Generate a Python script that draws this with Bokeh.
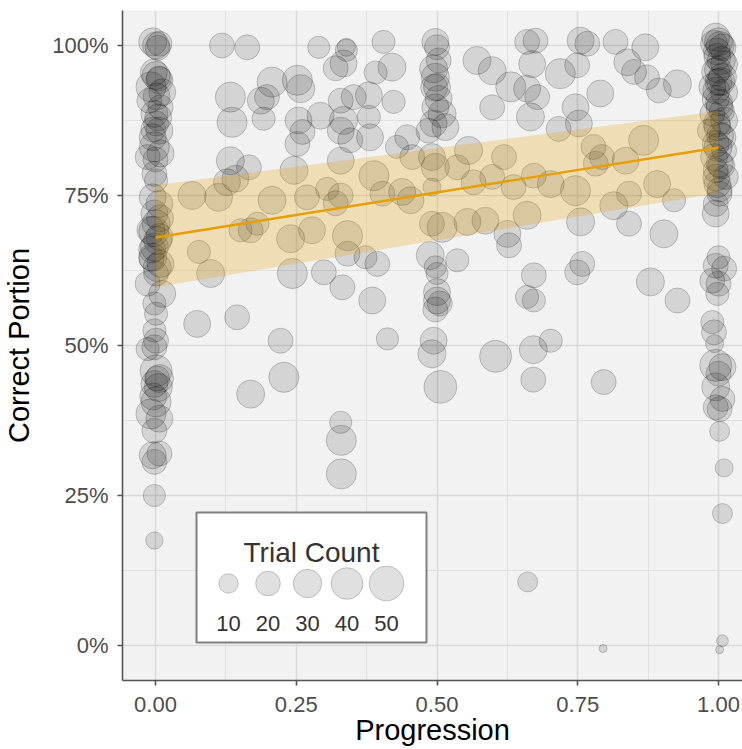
import numpy as np
from bokeh.plotting import figure
from bokeh.models import ColumnDataSource, FixedTicker, NumeralTickFormatter, Range1d
from bokeh.core.properties import value
from bokeh.embed import file_html
from bokeh.resources import INLINE

# ---------------- data ----------------
progression = [
    # column at 0
    -0.005, 0.007, 0.001, 0.004, 0.001, 0.007, -0.008, 0.012, 0.006, -0.003, 0.002,
    -0.011, 0.009, -0.002, 0.005, 0.001, -0.004, 0.007, -0.005, -0.002, 0.009, -0.014, 0.0,
    -0.002, 0.001, -0.005, 0.007, -0.002, 0.008, 0.001, -0.008, -0.003, 0.007, 0.004, -0.002,
    -0.006, -0.005, -0.007, 0.009, 0.003, 0.001, -0.014, 0.012, -0.002, 0.001, -0.002, 0.001,
    -0.002, -0.014, 0.001, 0.007, 0.003, -0.002, 0.005, -0.004, 0.001, -0.008, 0.007, -0.002,
    -0.005, 0.007, -0.002, -0.002, -0.002,
    # column at 0.5
    0.497, 0.5, 0.503, 0.494, 0.497, 0.5, 0.495, 0.503, 0.497, 0.509, 0.494, 0.515, 0.485,
    0.491, 0.497, 0.491, 0.491, 0.509, 0.488, 0.497, 0.5, 0.5, 0.5, 0.505, 0.497, 0.494,
    0.491, 0.506,
    # column at 1
    0.995, 1.0, 0.992, 1.007, 1.003, 0.997, 0.998, 1.005, 1.01, 0.999, 0.995, 1.007, 1.004,
    1.0, 0.989, 0.996, 1.01, 0.995, 1.001, 1.002, 1.006, 0.989, 1.01, 0.997, 0.998, 0.983,
    1.003, 1.007, 0.995, 0.999, 1.01, 0.992, 1.002, 1.005, 0.995, 1.013, 0.996, 0.998, 1.002,
    1.002, 0.995, 0.995, 1.0, 0.995, 1.01, 0.989, 1.0, 0.998, 0.989, 0.992, 0.993, 0.995,
    1.007, 1.0, 0.995, 1.007, 0.995, 1.002, 1.002, 1.01, 1.007, 1.007, 1.002,
    # scattered, 0 - 0.5
    0.118, 0.163, 0.29, 0.339, 0.339, 0.405,
    0.207, 0.252, 0.258, 0.334, 0.32, 0.391, 0.42,
    0.133, 0.187, 0.198, 0.136, 0.192, 0.254, 0.261, 0.252, 0.293, 0.329, 0.352, 0.379, 0.423,
    0.334, 0.329, 0.379, 0.381, 0.346, 0.329, 0.429, 0.456, 0.447, 0.133, 0.166, 0.246, 0.127,
    0.142,
    0.065, 0.112, 0.207, 0.269, 0.305, 0.329, 0.32, 0.388, 0.403, 0.438, 0.453,
    0.151, 0.169, 0.181, 0.24, 0.278, 0.341, 0.077, 0.098, 0.243, 0.299, 0.341, 0.373, 0.394,
    0.332, 0.385,
    0.074, 0.145, 0.222, 0.412, 0.228, 0.169, 0.329, 0.33, 0.33,
    # scattered, 0.5 - 1
    0.675, 0.66, 0.755, 0.767, 0.817, 0.87,
    0.571, 0.598, 0.669, 0.719, 0.749, 0.838, 0.85, 0.873, 0.927,
    0.631, 0.66, 0.678, 0.79, 0.894, 0.598, 0.666, 0.716, 0.746, 0.752,
    0.556, 0.619, 0.778, 0.793, 0.835, 0.867,
    0.536, 0.565, 0.598, 0.636, 0.672, 0.702, 0.746, 0.782, 0.841, 0.891, 0.921,
    0.554, 0.586, 0.625, 0.66, 0.755, 0.814, 0.841, 0.903, 0.628, 0.536, 0.672, 0.758, 0.749,
    0.879, 0.927, 0.66, 0.672,
    0.604, 0.671, 0.702, 0.671, 0.796, 0.661, 0.795,
]

correct_portion = [
    # column at 0
    1.006, 1.003, 1.0, 0.996, 0.95, 0.942, 0.931, 0.922, 0.945, 0.955, 0.915,
    0.908, 0.897, 0.886, 0.88, 0.87, 0.86, 0.858, 0.847, 0.831, 0.82, 0.814, 0.81,
    0.786, 0.775, 0.747, 0.736, 0.72, 0.712, 0.703, 0.692, 0.69, 0.681, 0.675, 0.664,
    0.66, 0.647, 0.645, 0.636, 0.63, 0.62, 0.603, 0.586, 0.57, 0.553, 0.525, 0.508,
    0.497, 0.494, 0.458, 0.445, 0.445, 0.436, 0.43, 0.415, 0.406, 0.386, 0.378, 0.358,
    0.317, 0.32, 0.306, 0.25, 0.175,
    # column at 0.5
    1.006, 0.997, 0.975, 0.961, 0.947, 0.931, 0.93, 0.911, 0.897, 0.886, 0.87, 0.864, 0.858,
    0.814, 0.797, 0.764, 0.703, 0.697, 0.65, 0.631, 0.62, 0.589, 0.575, 0.57, 0.56, 0.508,
    0.486, 0.431,
    # column at 1
    1.014, 1.006, 1.003, 0.997, 1.0, 0.99, 0.981, 0.975, 0.969, 0.96, 0.956, 0.947, 0.94,
    0.939, 0.931, 0.925, 0.922, 0.911, 0.905, 0.897, 0.89, 0.886, 0.875, 0.87, 0.864, 0.858,
    0.85, 0.847, 0.836, 0.83, 0.825, 0.814, 0.803, 0.8, 0.792, 0.781, 0.78, 0.769, 0.76,
    0.753, 0.736, 0.72, 0.647, 0.633, 0.628, 0.608, 0.603, 0.586, 0.539, 0.522, 0.503, 0.467,
    0.464, 0.453, 0.431, 0.411, 0.397, 0.394, 0.357, 0.296, 0.22, 0.008, -0.007,
    # scattered, 0 - 0.5
    1.0, 0.997, 0.997, 0.997, 0.992, 1.006,
    0.939, 0.942, 0.928, 0.97, 0.962, 0.955, 0.964,
    0.914, 0.908, 0.914, 0.872, 0.878, 0.875, 0.856, 0.836, 0.883, 0.908, 0.914, 0.917, 0.906,
    0.875, 0.858, 0.881, 0.847, 0.842, 0.808, 0.831, 0.814, 0.847, 0.808, 0.797, 0.792, 0.772,
    0.778,
    0.75, 0.747, 0.742, 0.747, 0.761, 0.75, 0.737, 0.783, 0.753, 0.756, 0.742,
    0.692, 0.692, 0.703, 0.678, 0.692, 0.683, 0.656, 0.62, 0.62, 0.622, 0.653, 0.647, 0.636,
    0.597, 0.575,
    0.536, 0.547, 0.508, 0.511, 0.447, 0.419, 0.372, 0.342, 0.286,
    # scattered, 0.5 - 1
    1.008, 1.006, 1.008, 1.003, 1.006, 0.997,
    0.975, 0.958, 0.969, 0.953, 0.967, 0.972, 0.956, 0.947, 0.936,
    0.931, 0.928, 0.914, 0.92, 0.925, 0.897, 0.881, 0.861, 0.897, 0.87,
    0.825, 0.814, 0.831, 0.814, 0.808, 0.842,
    0.797, 0.772, 0.781, 0.764, 0.783, 0.769, 0.758, 0.803, 0.753, 0.769, 0.742,
    0.706, 0.708, 0.686, 0.717, 0.706, 0.733, 0.703, 0.686, 0.667, 0.642, 0.617, 0.636, 0.622,
    0.606, 0.575, 0.581, 0.575,
    0.482, 0.493, 0.508, 0.443, 0.439, 0.106, -0.005,
]

trial_count = [
    # column at 0
    29, 21, 26, 21, 29, 26, 35, 26, 21, 26, 26,
    21, 21, 26, 26, 21, 21, 26, 26, 35, 26, 21, 21,
    21, 17, 26, 26, 26, 26, 29, 29, 35, 26, 29, 29,
    26, 29, 21, 26, 29, 21, 21, 26, 17, 17, 17, 21,
    21, 17, 41, 29, 21, 26, 29, 26, 35, 35, 26, 21,
    26, 21, 21, 15, 7,
    # column at 0.5
    26, 21, 21, 29, 29, 26, 26, 26, 26, 29, 26, 26, 21,
    26, 29, 8, 21, 35, 29, 15, 15, 26, 26, 21, 21, 26,
    29, 44,
    # column at 1
    29, 29, 26, 26, 29, 26, 26, 29, 26, 26, 29, 29, 29,
    26, 26, 26, 26, 26, 26, 26, 21, 21, 26, 26, 26, 17,
    26, 26, 26, 29, 21, 26, 26, 26, 21, 21, 26, 26, 21,
    21, 21, 26, 17, 21, 21, 21, 21, 17, 17, 21, 8, 41,
    26, 21, 29, 21, 21, 21, 11, 8, 11, 2, 1,
    # scattered, 0 - 0.5
    21, 21, 15, 8, 15, 17,
    35, 35, 29, 26, 21, 17, 29,
    35, 26, 21, 35, 17, 26, 21, 21, 26, 21, 21, 26, 17,
    29, 26, 17, 26, 21, 26, 17, 21, 21, 29, 21, 29, 26,
    26,
    29, 29, 29, 21, 17, 21, 21, 35, 21, 26, 26,
    17, 21, 17, 29, 26, 35, 17, 29, 35, 21, 21, 17, 21,
    21, 26,
    26, 21, 21, 15, 35, 29, 15, 35, 35,
    # scattered, 0.5 - 1
    21, 21, 26, 21, 21, 26,
    29, 29, 26, 35, 21, 26, 21, 21, 29,
    35, 26, 21, 26, 21, 21, 29, 21, 26, 26,
    29, 21, 21, 21, 26, 35,
    21, 21, 21, 21, 21, 26, 35, 21, 21, 26, 17,
    26, 26, 26, 29, 29, 29, 21, 29, 21, 17, 21, 21, 21,
    29, 21, 17, 17,
    41, 29, 17, 21, 21, 11, 1,
]

# linear fit with its confidence band
fit_x = [0.0, 1.0]
fit_y = [0.680, 0.830]
fit_lower = [0.597, 0.754]
fit_upper = [0.767, 0.891]

x_ticks = [0.0, 0.25, 0.5, 0.75, 1.0]
x_minor = [0.125, 0.375, 0.625, 0.875]
y_ticks = [0.0, 0.25, 0.5, 0.75, 1.0]
y_minor = [0.125, 0.375, 0.625, 0.875]
legend_counts = [10, 20, 30, 40, 50]
legend_title = "Trial Count"


def size_scale(n):
    """Trial count -> marker diameter (screen px), area-style scale."""
    n = np.asarray(n, dtype=float)
    return 8.0 + 3.8 * np.sqrt(np.maximum(n - 1.0, 0.0))


# ---------------- layout ----------------
W, H = 742, 749
L, R, T, B = 122, 0, 10, 69
X0, X1 = -0.0586, 1.0426
Y0, Y1 = -0.0583, 1.0583
FW, FH = W - L - R, H - T - B


def sx(px):
    return X0 + (px - L) / FW * (X1 - X0)


def sy(py):
    return Y1 - (py - T) / FH * (Y1 - Y0)


FONT = "Liberation Sans"

p = figure(width=W, height=H, x_range=Range1d(X0, X1), y_range=Range1d(Y0, Y1),
           output_backend="svg", toolbar_location=None,
           min_border_left=L, min_border_right=R, min_border_top=T, min_border_bottom=B)
p.background_fill_color = "#F2F2F2"
p.border_fill_color = "white"
p.outline_line_color = None

p.xaxis.ticker = FixedTicker(ticks=x_ticks, minor_ticks=x_minor)
p.yaxis.ticker = FixedTicker(ticks=y_ticks, minor_ticks=y_minor)
p.xaxis.formatter = NumeralTickFormatter(format="0.00")
p.yaxis.formatter = NumeralTickFormatter(format="0%")

for g in (p.xgrid, p.ygrid):
    g.grid_line_color = "#DADADA"
    g.grid_line_width = 1.6
    g.minor_grid_line_color = "#E0E0E0"
    g.minor_grid_line_width = 1.0

for ax in (p.xaxis, p.yaxis):
    ax.axis_line_color = "#555555"
    ax.axis_line_width = 1.6
    ax.major_tick_line_color = "#555555"
    ax.major_tick_line_width = 1.6
    ax.major_tick_out = 5
    ax.major_tick_in = 0
    ax.minor_tick_line_color = None
    ax.major_label_text_font = FONT
    ax.major_label_text_font_size = "22px"
    ax.major_label_text_color = "#4D4D4D"
    ax.axis_label_text_font = FONT
    ax.axis_label_text_font_size = "29px"
    ax.axis_label_text_font_style = "normal"
    ax.axis_label_text_color = "black"

p.xaxis.axis_label = "Progression"
p.yaxis.axis_label = "Correct Portion"
p.xaxis.major_label_standoff = 11
p.yaxis.major_label_standoff = 9
p.xaxis.axis_label_standoff = -1
p.yaxis.axis_label_standoff = 14

src = ColumnDataSource(dict(x=progression, y=correct_portion, n=trial_count,
                            s=size_scale(trial_count)))
p.scatter("x", "y", size="s", source=src, fill_color="black", fill_alpha=0.12,
          line_color="black", line_alpha=0.2, line_width=1)

p.varea(x=fit_x, y1=fit_lower, y2=fit_upper, fill_color="#E69F00", fill_alpha=0.25)
p.line(fit_x, fit_y, line_color="#E69F00", line_width=2.4)

# ---------------- size legend (inset) ----------------
p.quad(left=[sx(196)], right=[sx(426)], top=[sy(512)], bottom=[sy(642)],
       fill_color="white", line_color="#808080", line_width=2)
p.text(x=[sx(311)], y=[sy(552)], text=[legend_title], text_align="center",
       text_baseline="alphabetic", text_font=value(FONT), text_font_size="28px",
       text_color="#333333")
lx = [sx(228 + 39.5 * i) for i in range(len(legend_counts))]
p.scatter(lx, [sy(583)] * len(legend_counts), size=size_scale(legend_counts),
          fill_color="black", fill_alpha=0.12, line_color="black", line_alpha=0.2,
          line_width=1)
p.text(x=lx, y=[sy(623)] * len(legend_counts), text=[str(c) for c in legend_counts],
       text_align="center", text_baseline="alphabetic", text_font=value(FONT),
       text_font_size="22px", text_color="#333333")

open("out.html", "w").write(file_html(p, INLINE))
